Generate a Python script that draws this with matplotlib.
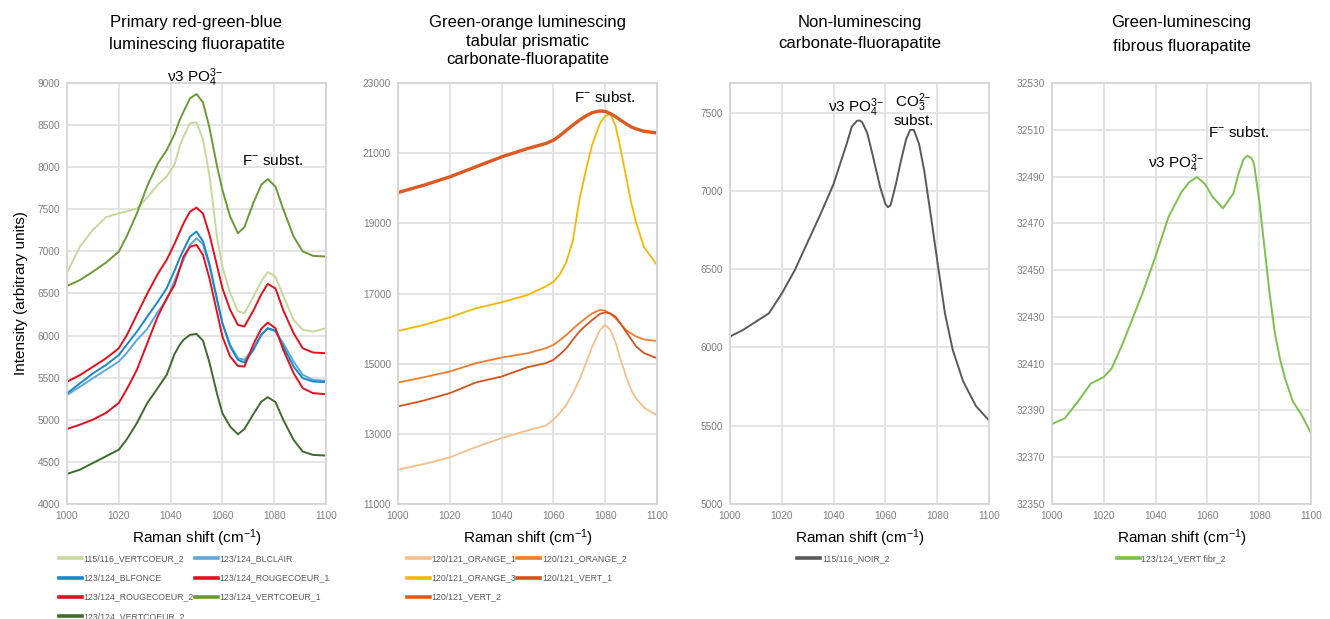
import numpy as np
import matplotlib
matplotlib.use('Agg')
import matplotlib.pyplot as plt
from matplotlib.ticker import FormatStrFormatter

plt.rcParams['font.family'] = ['Liberation Sans', 'DejaVu Sans']
plt.rcParams['mathtext.fontset'] = 'custom'
plt.rcParams['mathtext.rm'] = 'Liberation Sans'
plt.rcParams['mathtext.it'] = 'Liberation Sans:italic'

# ---- panel 1: primary red-green-blue luminescing fluorapatite
x1 = [1000, 1005, 1010, 1015, 1020, 1023, 1027, 1031, 1035, 1038.5, 1041.5, 1043.5, 1045,
      1047.5, 1050, 1052.5, 1055, 1058, 1060, 1063, 1066, 1068.5, 1072, 1075, 1077.5, 1080.5,
      1083.5, 1087.5, 1091, 1095, 1100]
vertcoeur2_115 = [6747, 7057, 7255, 7405, 7453, 7475, 7510, 7640, 7790, 7890, 8030, 8250, 8362,
                  8521, 8533, 8330, 7900, 7150, 6820, 6503, 6290, 6266, 6464, 6645, 6753, 6700,
                  6470, 6187, 6070, 6048, 6088]
blclair = [5294, 5393, 5494, 5593, 5692, 5791, 5949, 6080, 6280, 6424, 6650, 6800, 6899,
           7077, 7157, 7085, 6830, 6404, 6147, 5890, 5732, 5712, 5850, 6009, 6088, 6048,
           5909, 5692, 5534, 5474, 5463]
blfonce = [5314, 5433, 5551, 5650, 5769, 5890, 6048, 6226, 6400, 6563, 6770, 6920, 7018,
           7176, 7236, 7120, 6850, 6424, 6147, 5870, 5712, 5680, 5831, 6009, 6088, 6060,
           5870, 5632, 5494, 5455, 5447]
rougecoeur1 = [5452, 5531, 5630, 5729, 5850, 6000, 6250, 6500, 6730, 6900, 7090, 7230, 7334,
               7473, 7520, 7450, 7200, 6820, 6562, 6305, 6127, 6108, 6300, 6490, 6614, 6560,
               6300, 6028, 5850, 5799, 5791]
rougecoeur2 = [4891, 4942, 5002, 5081, 5200, 5358, 5595, 5910, 6226, 6444, 6600, 6790, 6939,
               7057, 7077, 6959, 6680, 6266, 5989, 5751, 5640, 5632, 5900, 6080, 6155, 6088,
               5831, 5554, 5376, 5316, 5304]
vertcoeur1 = [6589, 6660, 6759, 6866, 6997, 7175, 7452, 7780, 8040, 8204, 8390, 8560, 8660,
              8818, 8869, 8770, 8470, 8000, 7730, 7413, 7215, 7290, 7580, 7790, 7860, 7769,
              7500, 7176, 7000, 6947, 6939]
vertcoeur2 = [4357, 4408, 4487, 4566, 4645, 4764, 4962, 5200, 5376, 5534, 5780, 5890, 5950,
              6009, 6020, 5940, 5680, 5300, 5078, 4919, 4828, 4890, 5070, 5215, 5269, 5210,
              4999, 4761, 4623, 4583, 4575]

names1 = ['115/116_VERTCOEUR_2', '123/124_BLCLAIR', '123/124_BLFONCE', '123/124_ROUGECOEUR_1',
          '123/124_ROUGECOEUR_2', '123/124_VERTCOEUR_1', '123/124_VERTCOEUR_2']
series1 = [vertcoeur2_115, blclair, blfonce, rougecoeur1, rougecoeur2, vertcoeur1, vertcoeur2]
colors1 = ['#c5d99b', '#5ba7dc', '#1689c9', '#e3101e', '#e3101e', '#6a9a35', '#3d6b2c']

# ---- panel 2: green-orange luminescing tabular prismatic carbonate-fluorapatite
x2 = [1000, 1010, 1020, 1030, 1040, 1050, 1057, 1060, 1062.5, 1065, 1067.5, 1070, 1072.5, 1075,
      1078, 1080, 1082, 1084, 1086, 1088, 1090, 1092, 1095, 1100]
orange1 = [11978, 12139, 12329, 12622, 12879, 13097, 13230, 13400, 13600, 13827, 14150, 14539,
           15000, 15487, 15962, 16104, 15962, 15600, 15108, 14650, 14254, 14000, 13750, 13524]
orange2 = [14463, 14614, 14776, 15013, 15174, 15297, 15440, 15535, 15670, 15819, 15990, 16151,
           16300, 16436, 16531, 16512, 16420, 16294, 16130, 15962, 15860, 15772, 15690, 15648]
orange3 = [15933, 16104, 16322, 16578, 16749, 16958, 17200, 17330, 17550, 17900, 18500, 19650,
           20500, 21250, 21850, 22060, 22120, 21780, 21100, 20350, 19600, 19000, 18320, 17811]
vert1 = [13780, 13950, 14159, 14463, 14633, 14899, 15013, 15108, 15260, 15440, 15680, 15914,
         16090, 16246, 16420, 16464, 16430, 16340, 16130, 15914, 15700, 15487, 15300, 15155]
vert2 = [19879, 20088, 20325, 20610, 20894, 21131, 21274, 21368, 21500, 21653, 21800, 21938,
         22060, 22156, 22203, 22190, 22127, 22040, 21938, 21840, 21748, 21690, 21625, 21577]

names2 = ['120/121_ORANGE_1', '120/121_ORANGE_2', '120/121_ORANGE_3', '120/121_VERT_1', '120/121_VERT_2']
series2 = [orange1, orange2, orange3, vert1, vert2]
colors2 = ['#f7be8a', '#ee7d2e', '#f5b800', '#d4521c', '#dc5a20']
widths2 = [1.3, 1.3, 1.3, 1.3, 2.4]

# ---- panel 3: non-luminescing carbonate-fluorapatite
x3 = [1000, 1005, 1010, 1015, 1020, 1025, 1030, 1035, 1040, 1045, 1047, 1049, 1050, 1051, 1053,
      1055, 1058, 1060, 1061, 1062, 1064, 1066, 1068, 1069.5, 1071, 1073, 1075, 1078, 1080, 1083,
      1086, 1090, 1095, 1100]
noir2 = [6070, 6112, 6165, 6218, 6345, 6494, 6674, 6854, 7045, 7299, 7410, 7448, 7451, 7440,
         7370, 7235, 7023, 6917, 6896, 6910, 7040, 7193, 7330, 7390, 7390, 7300, 7129, 6790,
         6557, 6218, 5985, 5784, 5625, 5534]

# ---- panel 4: green-luminescing fibrous fluorapatite
x4 = [1000, 1005, 1010, 1015, 1020, 1023, 1027, 1030, 1035, 1040, 1045, 1050, 1053, 1056, 1059,
      1062, 1066, 1070, 1072, 1074, 1075.5, 1077, 1078, 1080, 1082, 1084, 1086, 1088, 1090, 1093,
      1096, 1100]
vert_fibr2 = [32384.2, 32386.7, 32393.8, 32401.5, 32404.3, 32407.9, 32417.8, 32426.2, 32440.3,
              32455.9, 32472.8, 32483.4, 32487.6, 32489.8, 32486.9, 32481.3, 32476.4, 32482.7,
              32491.2, 32497.5, 32498.9, 32497.9, 32495.4, 32479.9, 32460.0, 32440.3, 32423.4,
              32412.1, 32403.6, 32393.8, 32388.8, 32380.3]

titles = ['Primary red-green-blue\nluminescing fluorapatite',
          'Green-orange luminescing\ntabular prismatic\ncarbonate-fluorapatite',
          'Non-luminescing\ncarbonate-fluorapatite',
          'Green-luminescing\nfibrous fluorapatite']

grid_c = '#e2e2e2'
tick_c = '#7f7f7f'
legend_c = '#595959'

fig = plt.figure(figsize=(13.3, 6.19), dpi=100)
lefts = [67, 398, 730, 1052]
axes = []
for l in lefts:
    ax = fig.add_axes([l / 1330, 1 - 504 / 619, 259 / 1330, 421 / 619])
    axes.append(ax)


def style(ax, yticks, ylim):
    ax.set_xlim(1000, 1100)
    ax.set_xticks(range(1000, 1101, 20))
    ax.set_ylim(*ylim)
    ax.set_yticks(yticks)
    ax.grid(True, color=grid_c, lw=1.3)
    ax.set_axisbelow(True)
    for s in ax.spines.values():
        s.set_color('#d4d4d4')
        s.set_linewidth(1.3)
    ax.tick_params(length=0, labelsize=7.3, labelcolor=tick_c, pad=5)
    ax.set_xlabel('Raman shift (cm$^{-1}$)', fontsize=11, labelpad=5)


def legend(ax, order, x0, ncol):
    h, lab = ax.get_legend_handles_labels()
    leg = ax.legend([h[i] for i in order], [lab[i] for i in order], loc='upper left',
                    bbox_to_anchor=(x0, -0.12), ncol=ncol, frameon=False, fontsize=6.3,
                    handlelength=2.6, handletextpad=0.2, columnspacing=0.1,
                    labelspacing=1.15, borderpad=0, borderaxespad=0)
    for t in leg.get_texts():
        t.set_color(legend_c)
    for ln in leg.get_lines():
        ln.set_linewidth(2.6)


# panel 1
ax = axes[0]
for name, y, c in zip(names1, series1, colors1):
    ax.plot(x1, y, color=c, lw=1.4, label=name)
style(ax, range(4000, 9001, 500), (4000, 9000))
ax.set_ylabel('Intensity (arbitrary units)', fontsize=11, labelpad=7)
ax.text(1049.4, 9060, r'ν3 PO$_4^{3\mathrm{-}}$', fontsize=11, ha='center', va='center')
ax.text(1079.5, 8085, r'F$^{\mathrm{-}}$ subst.', fontsize=11, ha='center', va='center')
legend(ax, [0, 2, 4, 6, 1, 3, 5], -0.03, 2)

# panel 2
ax = axes[1]
for name, y, c, w in zip(names2, series2, colors2, widths2):
    ax.plot(x2, y, color=c, lw=w, label=name)
style(ax, range(11000, 23001, 2000), (11000, 23000))
ax.text(1079.8, 22600, r'F$^{\mathrm{-}}$ subst.', fontsize=11, ha='center', va='center')
legend(ax, [0, 2, 4, 1, 3], 0.035, 2)

# panel 3
ax = axes[2]
ax.plot(x3, noir2, color='#595959', lw=1.4, label='115/116_NOIR_2')
style(ax, range(5000, 7501, 500), (5000, 7690))
ax.text(1048.6, 7530, r'ν3 PO$_4^{3\mathrm{-}}$', fontsize=11, ha='center', va='center')
ax.text(1070.8, 7520, 'CO$_3^{2\\mathrm{-}}$\nsubst.', fontsize=11, ha='center', va='center',
        linespacing=1.0)
legend(ax, [0], 0.26, 1)

# panel 4
ax = axes[3]
ax.plot(x4, vert_fibr2, color='#7cc14b', lw=1.4, label='123/124_VERT fibr_2')
style(ax, range(32350, 32531, 20), (32350, 32530))
ax.yaxis.set_major_formatter(FormatStrFormatter('%d'))
ax.text(1072.2, 32508.8, r'F$^{\mathrm{-}}$ subst.', fontsize=11, ha='center', va='center')
ax.text(1047.9, 32495.7, r'ν3 PO$_4^{3\mathrm{-}}$', fontsize=11, ha='center', va='center')
legend(ax, [0], 0.25, 1)

title_spacing = [1.6, 1.3, 1.5, 1.75]
for ax, t, sp in zip(axes, titles, title_spacing):
    pos = ax.get_position()
    fig.text(pos.x0 + pos.width / 2, 1 - 15 / 619, t, fontsize=12, ha='center', va='top',
             linespacing=sp)

fig.savefig('out.png', dpi=100)
